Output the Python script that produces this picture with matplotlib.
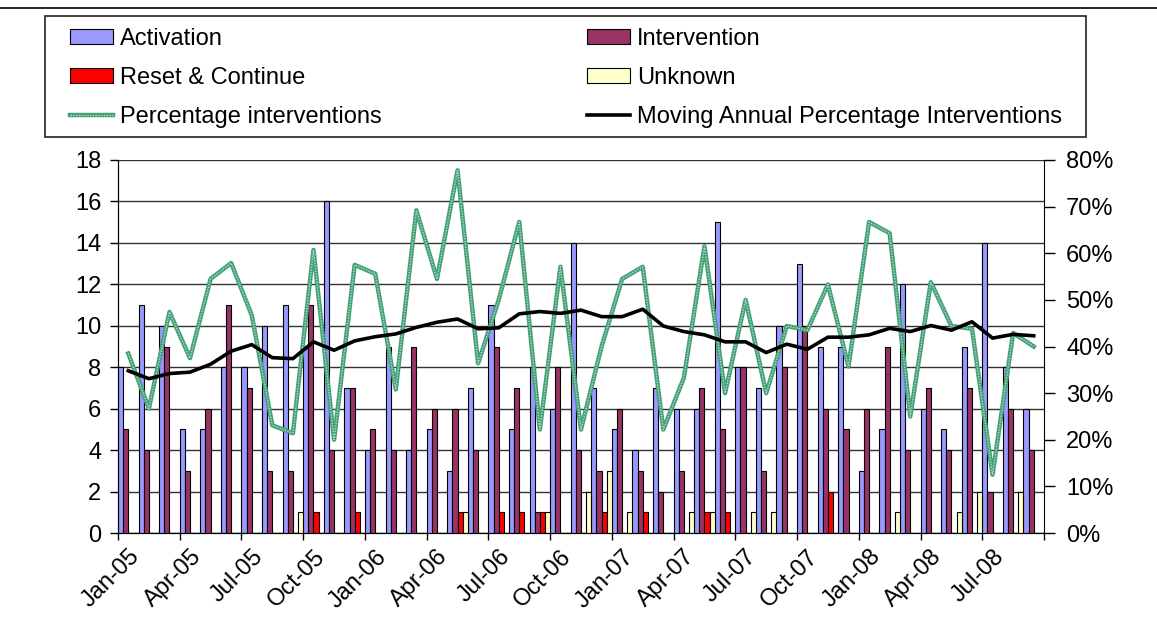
import numpy as np
import matplotlib
matplotlib.use("Agg")
import matplotlib.pyplot as plt
from matplotlib.lines import Line2D
from matplotlib.patches import Patch, Rectangle
from matplotlib.ticker import FixedLocator, PercentFormatter

plt.rcParams['font.family'] = ['Liberation Sans', 'DejaVu Sans']

# months Jan-05 .. Sep-08
months = ['Jan-05', 'Feb-05', 'Mar-05', 'Apr-05', 'May-05', 'Jun-05', 'Jul-05', 'Aug-05', 'Sep-05',
          'Oct-05', 'Nov-05', 'Dec-05', 'Jan-06', 'Feb-06', 'Mar-06', 'Apr-06', 'May-06', 'Jun-06',
          'Jul-06', 'Aug-06', 'Sep-06', 'Oct-06', 'Nov-06', 'Dec-06', 'Jan-07', 'Feb-07', 'Mar-07',
          'Apr-07', 'May-07', 'Jun-07', 'Jul-07', 'Aug-07', 'Sep-07', 'Oct-07', 'Nov-07', 'Dec-07',
          'Jan-08', 'Feb-08', 'Mar-08', 'Apr-08', 'May-08', 'Jun-08', 'Jul-08', 'Aug-08', 'Sep-08']

activation = [8, 11, 10, 5, 5, 8, 8, 10, 11, 9, 16, 7, 4, 9, 4, 5, 3, 7, 11, 5, 8, 6, 14,
              7, 5, 4, 7, 6, 6, 15, 8, 7, 10, 13, 9, 9, 3, 5, 12, 6, 5, 9, 14, 8, 6]
intervention = [5, 4, 9, 3, 6, 11, 7, 3, 3, 11, 4, 7, 5, 4, 9, 6, 6, 4, 9, 7, 1, 8, 4,
                3, 6, 3, 2, 3, 7, 5, 8, 3, 8, 10, 6, 5, 6, 9, 4, 7, 4, 7, 2, 6, 4]
reset = [0, 0, 0, 0, 0, 0, 0, 0, 0, 1, 0, 1, 0, 0, 0, 0, 1, 0, 1, 1, 1, 0, 0,
         1, 0, 1, 0, 0, 1, 1, 0, 0, 0, 0, 2, 0, 0, 0, 0, 0, 0, 0, 0, 0, 0]
unknown = [0, 0, 0, 0, 0, 0, 0, 0, 1, 0, 0, 0, 0, 0, 0, 0, 1, 0, 0, 0, 1, 0, 2,
           3, 1, 0, 0, 1, 1, 0, 1, 1, 0, 0, 0, 0, 0, 1, 0, 0, 1, 2, 0, 2, 0]

pct_interventions = [38.5, 26.7, 47.4, 37.5, 54.5, 57.9, 46.7, 23.1, 21.4, 60.7, 20.0, 57.5,
                     55.6, 30.8, 69.2, 54.5, 77.8, 36.4, 50.0, 66.7, 22.2, 57.1, 22.2, 40.0,
                     54.5, 57.1, 22.2, 33.3, 61.5, 30.0, 50.0, 30.0, 44.4, 43.5, 53.3, 35.7,
                     66.7, 64.3, 25.0, 53.8, 44.4, 43.8, 12.5, 42.9, 40.0]
moving_annual = [34.8, 33.1, 34.2, 34.5, 36.2, 39.0, 40.4, 37.6, 37.4, 41.0, 39.2, 41.2,
                 42.1, 42.7, 44.1, 45.2, 45.9, 43.8, 44.0, 47.0, 47.5, 47.1, 47.8, 46.4,
                 46.4, 48.0, 44.4, 43.2, 42.5, 41.0, 41.0, 38.7, 40.5, 39.4, 42.0, 42.0,
                 42.5, 43.9, 43.2, 44.5, 43.5, 45.3, 41.8, 42.6, 42.3]

W, H = 1157, 642
FS = 17
fig = plt.figure(figsize=(W / 100, H / 100), dpi=100)
ax = fig.add_axes([118 / W, 1 - 533 / H, (1044 - 118) / W, (533 - 160) / H])

n = len(months)
x = np.arange(n)
bw = 0.25
cols = ['#9999FF', '#993366', '#FF0000', '#FFFFCC']
for k, (vals, c) in enumerate(zip([activation, intervention, reset, unknown], cols)):
    ax.bar(x + bw * (k + 0.5), vals, width=bw, color=c, edgecolor='black',
           linewidth=0.8, zorder=3)

ax.set_xlim(0, n)
ax.set_ylim(0, 18)
ax.set_yticks(range(0, 19, 2))
ax.yaxis.grid(True, color='#333333', linewidth=1, zorder=0)
ax.set_axisbelow(True)
ax.tick_params(axis='y', direction='out', length=6, labelsize=FS, width=1, pad=6)

label_idx = list(range(0, n, 3))
ax.set_xticks([i + 0.5 for i in label_idx])
ax.set_xticklabels([months[i] for i in label_idx], rotation=45, ha='right',
                   rotation_mode='anchor', fontsize=FS)
ax.tick_params(axis='x', which='major', length=0, pad=9)
ax.xaxis.set_minor_locator(FixedLocator(list(range(0, n + 1, 3))))
ax.tick_params(axis='x', which='minor', direction='out', length=5, width=1)
ax.spines['top'].set_visible(False)
ax.spines['right'].set_visible(False)

ax2 = ax.twinx()
ax2.set_ylim(0, 80)
ax2.set_yticks(range(0, 81, 10))
ax2.yaxis.set_major_formatter(PercentFormatter(decimals=0))
ax2.tick_params(axis='y', direction='out', length=8, labelsize=FS, width=1, pad=8)
ax2.spines['top'].set_visible(False)
xc = x + 0.5
ax2.plot(xc, pct_interventions, color='#43a077', linewidth=3.2, zorder=4)
ax2.plot(xc, pct_interventions, color='#b0dcc6', linewidth=1, linestyle=(0, (1, 1)), zorder=5)
ax2.plot(xc, moving_annual, color='black', linewidth=2.6, zorder=6)

# top line of chart area
fig.add_artist(Line2D([0, 1], [1 - 8 / H] * 2, color='black', linewidth=1.2))

# legend frame
fig.add_artist(Rectangle((45 / W, 1 - 137 / H), (1086 - 45) / W, (137 - 16) / H,
                         transform=fig.transFigure, fill=False, edgecolor='#222222',
                         linewidth=1.2))

handles = [
    Patch(facecolor=cols[0], edgecolor='black', linewidth=0.8),
    Patch(facecolor=cols[2], edgecolor='black', linewidth=0.8),
    (Line2D([], [], color='#43a077', linewidth=3.2),
     Line2D([], [], color='#b0dcc6', linewidth=1, linestyle=(0, (1, 1)))),
    Patch(facecolor=cols[1], edgecolor='black', linewidth=0.8),
    Patch(facecolor=cols[3], edgecolor='black', linewidth=0.8),
    Line2D([], [], color='black', linewidth=2.6),
]
labels = ['Activation', 'Reset & Continue', 'Percentage interventions',
          'Intervention', 'Unknown', 'Moving Annual Percentage Interventions']
leg = fig.legend(handles, labels, ncol=2, loc='center', mode='expand',
                 bbox_to_anchor=(70 / W, 1 - 136 / H, (1062 - 70) / W, (136 - 20) / H),
                 fontsize=FS, frameon=False, borderpad=0,
                 handlelength=1.8, handleheight=0.6, handletextpad=0.3,
                 labelspacing=0.73, borderaxespad=0)

fig.savefig('out.png', dpi=100)
